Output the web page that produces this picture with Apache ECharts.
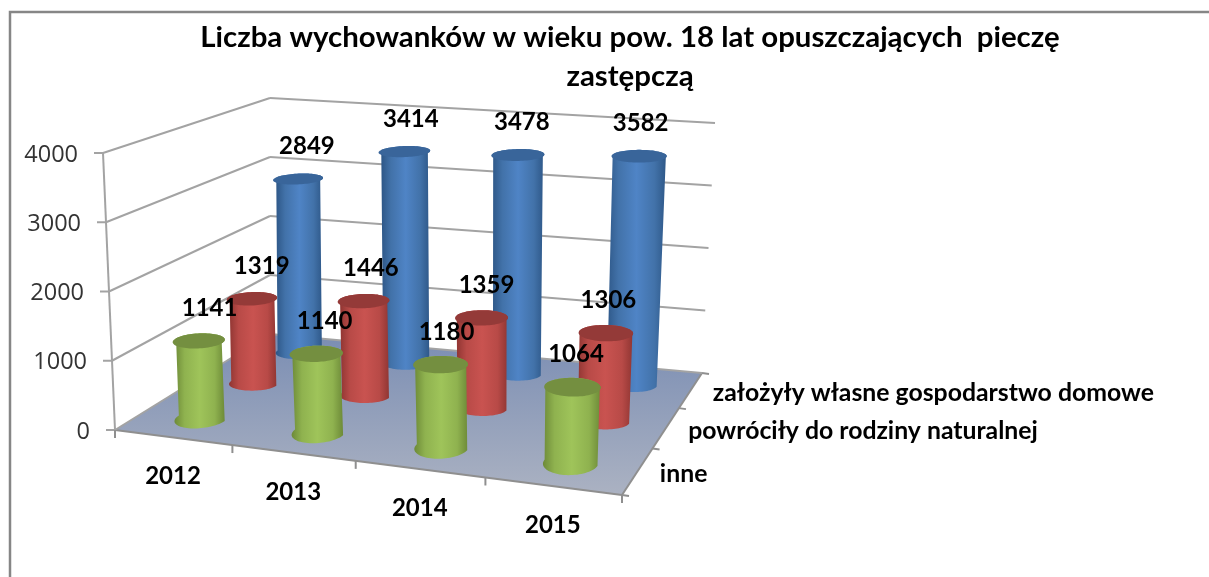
<!DOCTYPE html>
<html>
<head>
<meta charset="utf-8">
<style>html,body{margin:0;padding:0;background:#fff}#main{width:1209px;height:577px}</style>
<script src="https://cdn.jsdelivr.net/npm/echarts@6/dist/echarts.min.js"></script>
</head>
<body>
<div id="main"></div>
<script>
var titleText = 'Liczba wychowanków w wieku pow. 18 lat opuszczających  pieczę\nzastępczą';
var years = ['2012', '2013', '2014', '2015'];
var rowNames = ['inne', 'powróciły do rodziny naturalnej', 'założyły własne gospodarstwo domowe'];
var valueTicks = [0, 1000, 2000, 3000, 4000];
var inne = [1141, 1140, 1180, 1064];
var powrocily = [1319, 1446, 1359, 1306];
var zalozyly = [2849, 3414, 3478, 3582];

var myChart = echarts.init(document.getElementById('main'));

// rzut perspektywiczny: podloga i plaszczyzna 4000, rogi FL, FR, BR, BL
function homography(q) {
	var dx1 = q[1][0] - q[2][0], dx2 = q[3][0] - q[2][0], sx = q[0][0] - q[1][0] + q[2][0] - q[3][0];
	var dy1 = q[1][1] - q[2][1], dy2 = q[3][1] - q[2][1], sy = q[0][1] - q[1][1] + q[2][1] - q[3][1];
	var den = dx1 * dy2 - dx2 * dy1;
	var g = (sx * dy2 - dx2 * sy) / den, h = (dx1 * sy - sx * dy1) / den;
	return function (s, t) {
		var w = g * s + h * t + 1;
		return [
			((q[1][0] - q[0][0] + g * q[1][0]) * s + (q[3][0] - q[0][0] + h * q[3][0]) * t + q[0][0]) / w,
			((q[1][1] - q[0][1] + g * q[1][1]) * s + (q[3][1] - q[0][1] + h * q[3][1]) * t + q[0][1]) / w
		];
	};
}
var floorAt = homography([[115, 430], [622, 495], [702, 373], [270, 334]]);
var topAt = homography([[103, 153], [634, 200], [715, 123], [270, 98]]);
var U_WARP = 0.062; // os lat ma mniejszy skrot niz wynika z rogow

// u: 0..4 wzdluz lat, v: 0..3 w glab, f: 0..1 wysokosc
function project(u, v, f) {
	var s = u / years.length;
	s = s * (1 + U_WARP) / (1 + U_WARP * s);
	var a = floorAt(s, v / rowNames.length);
	var b = topAt(s, v / rowNames.length);
	return [a[0] + (b[0] - a[0]) * f, a[1] + (b[1] - a[1]) * f];
}
function uOf(params, api, i) {
	return (api.coord([i, 0])[0] - params.coordSys.x) / params.coordSys.width * years.length;
}
function fOf(params, api, val) {
	return (params.coordSys.y + params.coordSys.height - api.coord([0, val])[1]) / params.coordSys.height;
}
function line(a, b, color, w) {
	return {type: 'line', shape: {x1: a[0], y1: a[1], x2: b[0], y2: b[1]}, style: {stroke: color, lineWidth: w || 2}};
}
function label(text, x, y, font, align, color) {
	return {type: 'text', style: {text: text, x: x, y: y, font: font, textAlign: align || 'center', textVerticalAlign: 'middle', fill: color || '#000'}};
}
var boldFont = 'bold 24px Lato';
var axisGrey = '#a3a3a3';

function renderWall(params, api) {
	var f = fOf(params, api, api.value(0));
	var kids = [];
	if (api.value(0) === 0) {
		kids.push({type: 'polygon', shape: {points: [project(0, 0, 0), project(4, 0, 0), project(4, 3, 0), project(0, 3, 0)]},
			style: {fill: new echarts.graphic.LinearGradient(0, 0, 0, 1, [{offset: 0, color: '#7a8db3'}, {offset: 1, color: '#abb2c2'}])}});
		kids.push(line(project(0, 0, 0), project(4, 0, 0), '#8f8f8f'));
		kids.push(line(project(4, 0, 0), project(4, 3, 0), '#8f8f8f'));
		kids.push(line(project(0, 0, 0), project(0, 0, 1), axisGrey));
	}
	var a = project(0, 0, f), b = project(0, 3, f), c = project(4, 3, f);
	kids.push(line(a, b, axisGrey), line(b, c, axisGrey));
	kids.push(line([a[0] - 9, a[1]], a, axisGrey));
	kids.push(label(String(api.value(0)), a[0] - 25, a[1] + 2, '23.5px "Open Sans"', 'right', '#333'));
	return {type: 'group', children: kids};
}
function renderYear(params, api) {
	var i = api.value(0);
	var kids = [];
	var p = project(i, 0, 0);
	kids.push(line(p, [p[0], p[1] + 8], '#8f8f8f'));
	if (i === years.length - 1) {
		var e = project(i + 1, 0, 0);
		kids.push(line(e, [e[0], e[1] + 8], '#8f8f8f'));
	}
	var m = project(i + 0.5, 0, 0);
	kids.push(label(years[i], m[0], m[1] + 39, boldFont));
	return {type: 'group', children: kids};
}
function renderRowName(params, api) {
	var j = api.value(0);
	var kids = [];
	var p = project(4, j, 0);
	kids.push(line(p, [p[0] + 7, p[1] + 1], '#8f8f8f'));
	if (j === rowNames.length - 1) {
		var e = project(4, j + 1, 0);
		kids.push(line(e, [e[0] + 7, e[1] + 1], '#8f8f8f'));
	}
	var m = project(4, j + 0.5, 0);
	kids.push(label(rowNames[j], m[0] + 22, m[1] + 3, 'bold 24.8px Lato', 'left'));
	return {type: 'group', children: kids};
}

var rowColors = [
	{edge: '#6d8a38', mid: '#8fb24f', light: '#9fc45a', cap: '#748f40'},
	{edge: '#8f3532', mid: '#b84a47', light: '#c95350', cap: '#943a38'},
	{edge: '#2d5686', mid: '#4272a9', light: '#4f84c6', cap: '#39659a'}
];
var STEPS = 40;

function renderCylinder(row) {
	return function (params, api) {
		var i = api.value(0), val = api.value(1);
		var u = uOf(params, api, i), v = row + 0.5, f = fOf(params, api, val);
		var col = rowColors[row];
		var rad = 0.2 + 0.006 * row;
		var radV = rad * (1 + 0.35 * f); // zakretka wysokich walcow troche pelniejsza
		var radB = rad * (row === 0 ? 1.3 : 1); // przedni rzad ma wyrazniejsze dno
		var bottomFront = [], topBack = [], cap = [];
		for (var k = 0; k <= STEPS; k++) {
			var t = Math.PI * k / STEPS;
			bottomFront.push(project(u - rad * Math.cos(t), v - radB * Math.sin(t), 0));
			topBack.push(project(u + rad * Math.cos(t), v + radV * Math.sin(t), f));
		}
		for (k = 0; k < STEPS * 2; k++) {
			t = Math.PI * k / STEPS;
			cap.push(project(u + rad * Math.cos(t), v + radV * Math.sin(t), f));
		}
		var top = project(u, v, f);
		var dx = 12 - 2.4 * u - row;
		return {type: 'group', children: [
			{type: 'polygon', shape: {points: bottomFront.concat(topBack)}, style: {
				fill: new echarts.graphic.LinearGradient(0, 0, 1, 0, [
					{offset: 0, color: col.edge}, {offset: 0.2, color: col.mid},
					{offset: 0.5, color: col.light},
					{offset: 0.8, color: col.mid}, {offset: 1, color: col.edge}
				])
			}},
			{type: 'polygon', shape: {points: cap}, style: {fill: col.cap}},
			label(String(val), top[0] + dx, top[1] - 32.5, boldFont)
		]};
	};
}
function idx(arr) {
	return arr.map(function (d, i) { return [i, d]; });
}

var option = {
	animation: false,
	backgroundColor: '#fff',
	title: {
		text: titleText, left: 625, top: 13, textAlign: 'center',
		textStyle: {fontFamily: 'Lato', fontWeight: 'bold', fontSize: 29.4, lineHeight: 39, color: '#000'}
	},
	graphic: [
		{type: 'polyline', silent: true, shape: {points: [[10, 577], [10, 12], [1209, 12]]}, style: {stroke: '#868686', lineWidth: 2.5, fill: null}}
	],
	grid: {left: 115, top: 153, width: 507, height: 277},
	xAxis: {type: 'category', data: years, show: false},
	yAxis: {type: 'value', min: 0, max: 4000, interval: 1000, show: false},
	series: [
		{name: 'sciany', type: 'custom', renderItem: renderWall, data: valueTicks.map(function (d) { return [d]; }), encode: {y: 0}},
		{name: 'lata', type: 'custom', renderItem: renderYear, data: years.map(function (d, i) { return [i]; }), encode: {x: 0}},
		{name: 'wiersze', type: 'custom', renderItem: renderRowName, data: rowNames.map(function (d, i) { return [i]; }), encode: {x: 0}},
		{name: rowNames[2], type: 'custom', renderItem: renderCylinder(2), data: idx(zalozyly), encode: {x: 0, y: 1}},
		{name: rowNames[1], type: 'custom', renderItem: renderCylinder(1), data: idx(powrocily), encode: {x: 0, y: 1}},
		{name: rowNames[0], type: 'custom', renderItem: renderCylinder(0), data: idx(inne), encode: {x: 0, y: 1}}
	]
};
myChart.setOption(option);
</script>
</body>
</html>
